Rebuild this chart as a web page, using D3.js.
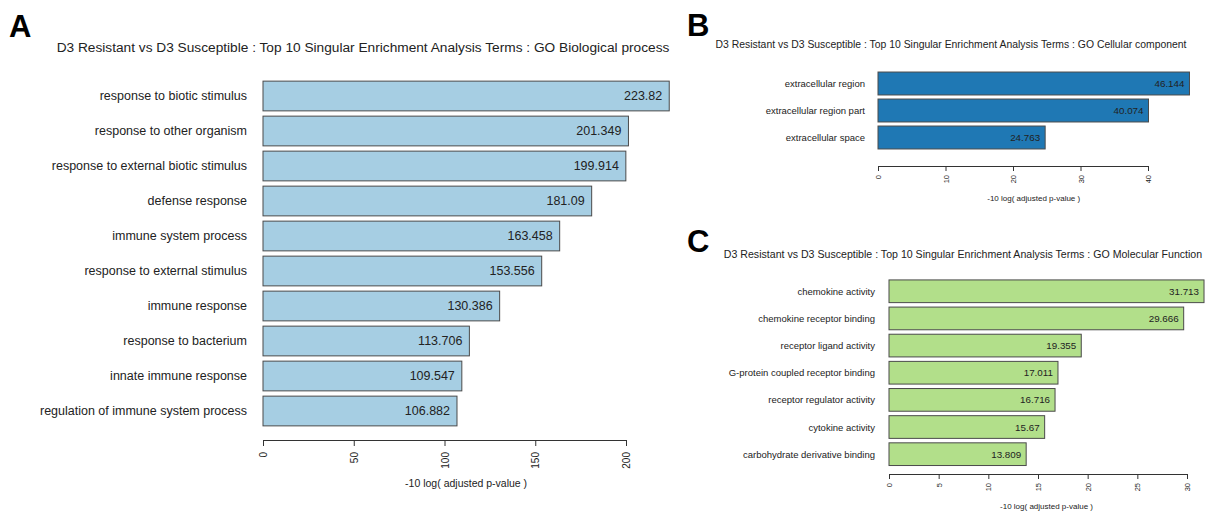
<!DOCTYPE html>
<html>
<head>
<meta charset="utf-8">
<script src="https://cdn.jsdelivr.net/npm/d3@7"></script>
<style>
  body { margin: 0; background: #fff; }
  svg text { font-family: "Liberation Sans", Arial, sans-serif; fill: #222; }
</style>
</head>
<body>
<svg id="chart" width="1210" height="514"></svg>
<script>
// GO Biological process (panel A)
var bpTerms = ["response to biotic stimulus", "response to other organism", "response to external biotic stimulus",
  "defense response", "immune system process", "response to external stimulus", "immune response",
  "response to bacterium", "innate immune response", "regulation of immune system process"]
var bpValues = [223.82, 201.349, 199.914, 181.09, 163.458, 153.556, 130.386, 113.706, 109.547, 106.882]
var bpTicks = [0, 50, 100, 150, 200]

// GO Cellular component (panel B)
var ccTerms = ["extracellular region", "extracellular region part", "extracellular space"]
var ccValues = [46.144, 40.074, 24.763]
var ccTicks = [0, 10, 20, 30, 40]

// GO Molecular Function (panel C)
var mfTerms = ["chemokine activity", "chemokine receptor binding", "receptor ligand activity",
  "G-protein coupled receptor binding", "receptor regulator activity", "cytokine activity",
  "carbohydrate derivative binding"]
var mfValues = [31.713, 29.666, 19.355, 17.011, 16.716, 15.67, 13.809]
var mfTicks = [0, 5, 10, 15, 20, 25, 30]

var titlePrefix = "D3 Resistant vs D3 Susceptible : Top 10 Singular Enrichment Analysis Terms : "
var xlabText = "-10 log( adjusted p-value )"

var svg = d3.select("#chart")

function drawPanel(p) {
  var g = svg.append("g")

  var x = d3.scaleLinear()
    .domain([0, p.ticks[p.ticks.length - 1]])
    .range([p.x0, p.x1])

  var n = p.terms.length
  var y = d3.scaleBand()
    .domain(p.terms)
    .range([p.y0, p.y0 + n * p.step])
    .paddingInner(p.pad)
    .paddingOuter(p.pad / 2)

  var rows = p.terms.map(function(t, i) { return {term: t, value: p.values[i]} })

  // panel letter
  g.append("text")
    .attr("x", p.letterX).attr("y", p.letterY)
    .style("font-size", "31px").style("font-weight", "bold")
    .style("fill", "#000")
    .text(p.letter)

  // title
  g.append("text")
    .attr("x", p.titleX).attr("y", p.titleY)
    .attr("text-anchor", "middle")
    .attr("dominant-baseline", "middle")
    .style("font-size", p.titleSize + "px")
    .text(titlePrefix + p.title)

  g.selectAll(".bar")
    .data(rows)
    .enter().append("rect")
      .attr("class", "bar")
      .attr("x", x(0))
      .attr("y", function(d) { return y(d.term) })
      .attr("width", function(d) { return x(d.value) - x(0) })
      .attr("height", y.bandwidth())
      .style("fill", p.colour)
      .style("stroke", "#4a4a4a")
      .style("stroke-width", 1)

  g.selectAll(".term")
    .data(rows)
    .enter().append("text")
      .attr("class", "term")
      .attr("x", x(0) - p.labelGap)
      .attr("y", function(d) { return y(d.term) + y.bandwidth() / 2 })
      .attr("text-anchor", "end")
      .attr("dominant-baseline", "central")
      .style("font-size", p.labelSize + "px")
      .text(function(d) { return d.term })

  g.selectAll(".val")
    .data(rows)
    .enter().append("text")
      .attr("class", "val")
      .attr("x", function(d) { return x(d.value) - p.valGap })
      .attr("y", function(d) { return y(d.term) + y.bandwidth() / 2 })
      .attr("text-anchor", "end")
      .attr("dominant-baseline", "central")
      .style("font-size", p.valSize + "px")
      .text(function(d) { return d.value })

  // R style axis: rotated tick labels
  var axis = d3.axisBottom(x)
    .tickValues(p.ticks)
    .tickSizeOuter(0)
    .tickSize(p.tickLen)
    .tickPadding(0)
  var ag = g.append("g")
    .attr("transform", "translate(0," + p.axisY + ")")
    .call(axis)
  ag.select(".domain").attr("stroke", "#333").attr("d", "M" + x(0) + ",0.5H" + x(p.ticks[p.ticks.length - 1]))
  ag.selectAll(".tick line").attr("stroke", "#333")
  ag.selectAll(".tick text")
    .attr("transform", "rotate(-90)")
    .attr("x", -(p.tickLen + p.tickTextGap))
    .attr("y", 0)
    .attr("dy", "0.35em")
    .attr("text-anchor", "end")
    .style("font-size", p.tickSize + "px")
    .style("font-family", "Liberation Sans, Arial, sans-serif")
    .style("fill", "#222")

  g.append("text")
    .attr("x", (x(0) + x(d3.max(p.values))) / 2)
    .attr("y", p.xlabY)
    .attr("text-anchor", "middle")
    .attr("dominant-baseline", "middle")
    .style("font-size", p.xlabSize + "px")
    .text(xlabText)
}

drawPanel({
  letter: "A", letterX: 9, letterY: 37,
  title: "GO Biological process", titleX: 363, titleY: 48, titleSize: 13.7,
  terms: bpTerms, values: bpValues, ticks: bpTicks, colour: "#a6cee3",
  x0: 263, x1: 626, y0: 78.5, step: 35, pad: 0.15,
  labelGap: 16, labelSize: 12.5, valGap: 7, valSize: 12.5,
  axisY: 440, tickLen: 6, tickTextGap: 6, tickSize: 10,
  xlabY: 484, xlabSize: 10.5
})

drawPanel({
  letter: "B", letterX: 687, letterY: 36,
  title: "GO Cellular component", titleX: 951, titleY: 45, titleSize: 10.4,
  terms: ccTerms, values: ccValues, ticks: ccTicks, colour: "#1f78b4",
  x0: 878, x1: 1148, y0: 70, step: 27, pad: 0.15,
  labelGap: 13, labelSize: 9.5, valGap: 5, valSize: 9.8,
  axisY: 166, tickLen: 5, tickTextGap: 4, tickSize: 7.5,
  xlabY: 199, xlabSize: 8
})

drawPanel({
  letter: "C", letterX: 687, letterY: 252,
  title: "GO Molecular Function", titleX: 963, titleY: 255, titleSize: 10.6,
  terms: mfTerms, values: mfValues, ticks: mfTicks, colour: "#b2df8a",
  x0: 889, x1: 1187, y0: 277.7, step: 27.15, pad: 0.164,
  labelGap: 14, labelSize: 9.5, valGap: 5, valSize: 9.8,
  axisY: 474, tickLen: 5, tickTextGap: 4, tickSize: 7.5,
  xlabY: 507, xlabSize: 8
})
</script>
</body>
</html>
